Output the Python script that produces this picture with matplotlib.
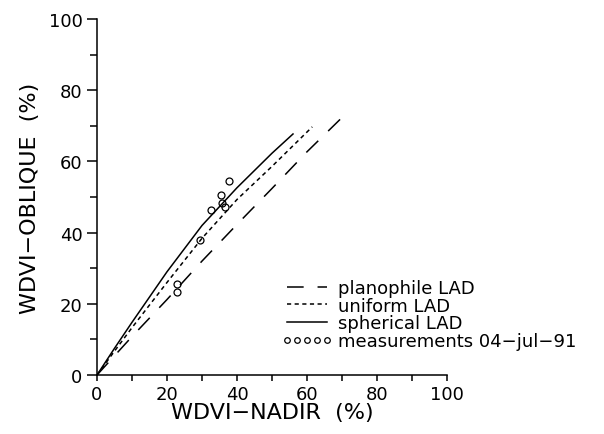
import matplotlib
matplotlib.use("Agg")
import matplotlib.pyplot as plt
from matplotlib.ticker import MultipleLocator

# curves (WDVI-nadir vs WDVI-oblique, %)
planophile_x = [0, 10, 20, 30, 40, 50, 60, 70.7]
planophile_y = [0, 10.8, 21.2, 32.0, 42.3, 52.4, 62.7, 73.0]

uniform_x = [0, 5, 10, 20, 30, 40, 50, 61.5]
uniform_y = [0, 6.7, 13.3, 26.0, 38.4, 49.3, 58.6, 69.7]

spherical_x = [0, 5, 10, 20, 30, 40, 50, 56]
spherical_y = [0, 7.5, 14.8, 29.0, 42.0, 52.6, 62.3, 67.7]

meas_x = [22.9, 22.9, 29.5, 32.7, 35.5, 35.7, 36.7, 37.7]
meas_y = [25.6, 23.2, 37.9, 46.4, 50.6, 48.2, 47.3, 54.4]

labels = ["planophile LAD", "uniform LAD", "spherical LAD", "measurements 04\u2212jul\u221291"]

plt.rcParams['font.family'] = ['DejaVu Sans']
plt.rcParams['lines.scale_dashes'] = False

fig = plt.figure(figsize=(6.04, 4.35), dpi=100)
ax = fig.add_axes([97/604, 59/435, 350/604, 356/435])

lw = 1.1
ax.plot(planophile_x, planophile_y, color='black', lw=lw, dashes=(12, 10), label=labels[0])
ax.plot(uniform_x, uniform_y, color='black', lw=lw, dashes=(3, 2.5), label=labels[1])
ax.plot(spherical_x, spherical_y, color='black', lw=lw, label=labels[2])
ax.plot(meas_x, meas_y, linestyle='none', marker='o', ms=5, mfc='none', mec='black',
        mew=0.9, label=labels[3])

ax.set_xlim(0, 100)
ax.set_ylim(0, 100)
ax.spines['top'].set_visible(False)
ax.spines['right'].set_visible(False)
ax.spines['left'].set_linewidth(1.1)
ax.spines['bottom'].set_linewidth(1.1)

ax.xaxis.set_major_locator(MultipleLocator(20))
ax.xaxis.set_minor_locator(MultipleLocator(10))
ax.yaxis.set_major_locator(MultipleLocator(20))
ax.yaxis.set_minor_locator(MultipleLocator(10))
ax.tick_params(axis='x', which='both', direction='out', length=4.5, width=1.1, labelsize=13, pad=3)
ax.tick_params(axis='y', which='major', direction='out', length=7.5, width=1.1, labelsize=13, pad=3)
ax.tick_params(axis='y', which='minor', direction='out', length=5, width=1.1)

ax.set_xlabel("WDVI\u2212NADIR  (%)", fontsize=16)
ax.set_ylabel("WDVI\u2212OBLIQUE  (%)", fontsize=16)
ax.xaxis.set_label_coords(0.5, -0.075)
ax.yaxis.set_label_coords(-0.163, 0.5)

leg = ax.legend(loc='upper left', bbox_to_anchor=(282/604, 1 - 280/435),
                bbox_transform=fig.transFigure, frameon=False, fontsize=13,
                numpoints=5, handlelength=2.8, handletextpad=0.3,
                labelspacing=-0.02, borderpad=0, borderaxespad=0, markerscale=0.8)

fig.savefig("out.png", dpi=100)
